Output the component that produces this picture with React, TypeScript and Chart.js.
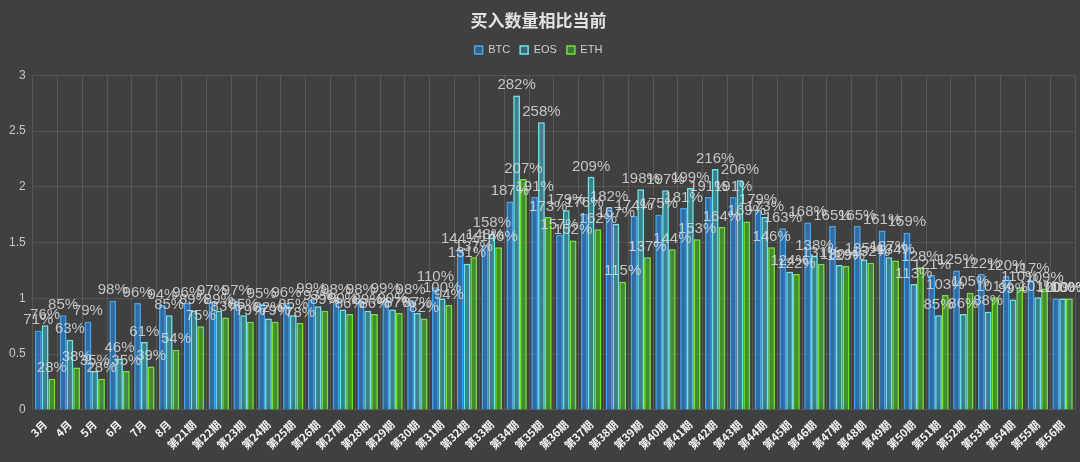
import React, { useEffect, useRef } from "react";
import { Chart, registerables } from "chart.js";

Chart.register(...registerables);

const categories = [
  "3月", "4月", "5月", "6月", "7月", "8月",
  "第21期", "第22期", "第23期", "第24期", "第25期", "第26期", "第27期", "第28期", "第29期", "第30期",
  "第31期", "第32期", "第33期", "第34期", "第35期", "第36期", "第37期", "第38期", "第39期", "第40期",
  "第41期", "第42期", "第43期", "第44期", "第45期", "第46期", "第47期", "第48期", "第49期", "第50期",
  "第51期", "第52期", "第53期", "第54期", "第55期", "第56期",
];

const btcValues = [
  0.71, 0.85, 0.79, 0.98, 0.96, 0.94,
  0.96, 0.97, 0.97, 0.95, 0.96, 0.99, 0.98, 0.98, 0.99, 0.98,
  1.10, 1.44, 1.48, 1.87, 1.91, 1.57, 1.76, 1.82, 1.74, 1.75,
  1.81, 1.91, 1.91, 1.79, 1.63, 1.68, 1.65, 1.65, 1.61, 1.59,
  1.21, 1.25, 1.22, 1.20, 1.17, 1.00,
];

const eosValues = [
  0.76, 0.63, 0.35, 0.46, 0.61, 0.85,
  0.89, 0.89, 0.85, 0.82, 0.85, 0.93, 0.90, 0.89, 0.90, 0.87,
  1.00, 1.31, 1.58, 2.82, 2.58, 1.79, 2.09, 1.67, 1.98, 1.97,
  1.99, 2.16, 2.06, 1.73, 1.24, 1.38, 1.30, 1.35, 1.37, 1.13,
  0.85, 0.86, 0.88, 0.99, 1.01, 1.00,
];

const ethValues = [
  0.28, 0.38, 0.28, 0.35, 0.39, 0.54,
  0.75, 0.83, 0.79, 0.79, 0.78, 0.89, 0.86, 0.86, 0.87, 0.82,
  0.94, 1.37, 1.46, 2.07, 1.73, 1.52, 1.62, 1.15, 1.37, 1.44,
  1.53, 1.64, 1.69, 1.46, 1.22, 1.31, 1.29, 1.32, 1.34, 1.28,
  1.03, 1.05, 1.01, 1.10, 1.09, 1.00,
];

const yTicks = [0, 0.5, 1, 1.5, 2, 2.5, 3];

const BG = "#404040";

const glowPlugin = {
  id: "glow",
  beforeInit(chart: any) {
    const legend = chart.legend;
    if (legend) {
      const origFit = legend.fit;
      legend.fit = function () {
        origFit.call(this);
        this.height += 10;
      };
    }
  },
  beforeDraw(chart: any) {
    const { ctx, width, height } = chart;
    ctx.save();
    ctx.fillStyle = BG;
    ctx.fillRect(0, 0, width, height);
    ctx.restore();
  },
  beforeDatasetDraw(chart: any, args: any) {
    const ds = chart.data.datasets[args.index];
    const ctx = chart.ctx;
    ctx.save();
    ctx.shadowColor = ds.glowColor;
    ctx.shadowBlur = 10;
  },
  afterDatasetDraw(chart: any) {
    chart.ctx.restore();
  },
  afterDatasetsDraw(chart: any) {
    const ctx = chart.ctx;
    ctx.save();
    ctx.font = "15px 'Liberation Sans', Arial, sans-serif";
    ctx.fillStyle = "rgba(220,220,220,0.85)";
    ctx.textAlign = "center";
    ctx.textBaseline = "bottom";
    chart.data.datasets.forEach((ds: any, i: number) => {
      const meta = chart.getDatasetMeta(i);
      meta.data.forEach((bar: any, j: number) => {
        const v = ds.data[j];
        ctx.fillText(Math.round(v * 100) + "%", bar.x, bar.y - 3);
      });
    });
    ctx.restore();
  },
};

export default function App() {
  const ref = useRef<HTMLCanvasElement | null>(null);

  useEffect(() => {
    document.body.style.margin = "0";
    document.body.style.background = BG;
    const canvas = ref.current!;
    const chart = new Chart(canvas, {
      type: "bar",
      data: {
        labels: categories,
        datasets: [
          {
            label: "BTC",
            data: btcValues,
            backgroundColor: "rgba(40,120,200,0.55)",
            borderColor: "rgb(70,165,235)",
            borderWidth: 1.5,
            glowColor: "rgba(60,160,240,0.9)",
          } as any,
          {
            label: "EOS",
            data: eosValues,
            backgroundColor: "rgba(50,150,170,0.45)",
            borderColor: "rgb(110,230,235)",
            borderWidth: 1.5,
            glowColor: "rgba(90,220,230,0.9)",
          } as any,
          {
            label: "ETH",
            data: ethValues,
            backgroundColor: "rgba(60,160,40,0.6)",
            borderColor: "rgb(120,225,60)",
            borderWidth: 1.5,
            glowColor: "rgba(110,220,60,0.9)",
          } as any,
        ],
      },
      options: {
        responsive: false,
        animation: false,
        layout: { padding: { left: 2, right: 5, top: 8, bottom: 2 } },
        datasets: {
          bar: { categoryPercentage: 0.82, barPercentage: 1.0 },
        },
        plugins: {
          title: {
            display: true,
            text: "买入数量相比当前",
            color: "#e2e2e2",
            font: { size: 17, weight: "bold", family: "'Noto Sans CJK SC', sans-serif" },
            padding: { top: 2, bottom: 4 },
          },
          legend: {
            display: true,
            labels: {
              color: "#cfcfcf",
              boxWidth: 8,
              boxHeight: 8,
              padding: 10,
              font: { size: 11, family: "'Liberation Sans', Arial, sans-serif" },
            },
          },
          tooltip: { enabled: false },
        },
        scales: {
          x: {
            grid: { color: "rgba(255,255,255,0.12)", drawTicks: false },
            border: { display: false },
            ticks: {
              color: "#f4f4f4",
              minRotation: 45,
              maxRotation: 45,
              autoSkip: false,
              padding: 8,
              font: { size: 11, weight: "bold", family: "'Noto Sans CJK SC', sans-serif" },
            },
          },
          y: {
            min: 0,
            max: 3,
            afterBuildTicks: (axis: any) => {
              axis.ticks = yTicks.map((v) => ({ value: v }));
            },
            grid: { color: "rgba(255,255,255,0.1)", drawTicks: false },
            border: { display: false },
            ticks: {
              color: "#c8c8c8",
              padding: 7,
              callback: (v: any) => String(v),
              font: { size: 12, family: "'Liberation Sans', Arial, sans-serif" },
            },
          },
        },
      } as any,
      plugins: [glowPlugin],
    });
    return () => chart.destroy();
  }, []);

  return (
    <div style={{ width: 1080, height: 462, background: BG }}>
      <canvas ref={ref} width={1080} height={462} style={{ display: "block" }} />
    </div>
  );
}
